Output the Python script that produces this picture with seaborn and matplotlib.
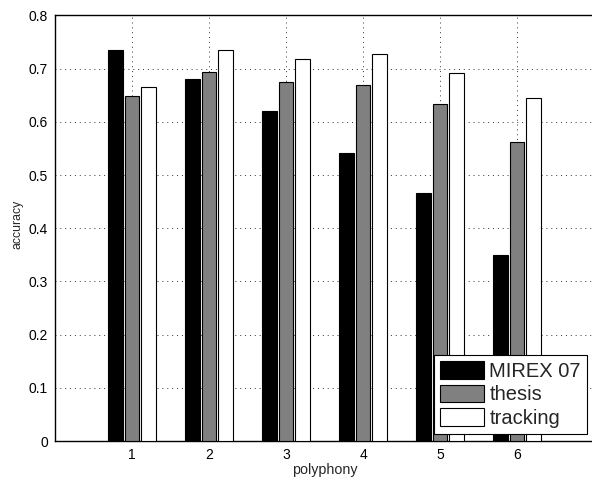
import numpy as np
import pandas as pd
import matplotlib
matplotlib.use("Agg")
import matplotlib.pyplot as plt
import seaborn as sns

# values
polyphony = ["1", "2", "3", "4", "5", "6"]
mirex07 = [0.736, 0.680, 0.620, 0.541, 0.467, 0.350]
thesis = [0.648, 0.693, 0.675, 0.670, 0.633, 0.563]
tracking = [0.665, 0.736, 0.718, 0.727, 0.692, 0.644]
methods = ["MIREX 07", "thesis", "tracking"]
colors = ["#000000", "#808080", "#ffffff"]

df = pd.DataFrame({
    "polyphony": polyphony * 3,
    "accuracy": mirex07 + thesis + tracking,
    "method": [m for m in methods for _ in polyphony],
})

sns.set_style("white")
plt.rcParams["font.family"] = ["Liberation Sans", "DejaVu Sans"]

fig = plt.figure(figsize=(5.92, 4.78), dpi=100)
ax = fig.add_axes([0.0929, 0.0774, 0.9105, 0.8902])

sns.barplot(data=df, x="polyphony", y="accuracy", hue="method",
            order=polyphony, hue_order=methods, palette=colors,
            width=0.65, gap=0.12, edgecolor="black", linewidth=0.8,
            errorbar=None, ax=ax, zorder=3)

ax.set_xlim(-1, 6)
ax.set_ylim(0, 0.8)
ax.set_yticks(np.arange(0, 0.81, 0.1))
ax.set_yticklabels(["0", "0.1", "0.2", "0.3", "0.4", "0.5", "0.6", "0.7", "0.8"])
ax.grid(True, linestyle=(0, (1, 4)), color="#333333", linewidth=0.7, zorder=0)
ax.set_axisbelow(True)
ax.tick_params(direction="in", length=3, labelsize=10, colors="black", pad=5)
for s in ax.spines.values():
    s.set_color("black")
    s.set_linewidth(1.0)

ax.set_xlabel("polyphony", fontsize=10.3, labelpad=1)
ax.set_ylabel("accuracy", fontsize=8.8, labelpad=3)
ax.yaxis.set_label_coords(-0.058, 0.51)

leg = ax.legend(loc="lower right", bbox_to_anchor=(0.987, 0.0164),
                fontsize=14.5, frameon=True, fancybox=False, edgecolor="black",
                handlelength=2.2, handleheight=0.94, handletextpad=0.25,
                labelspacing=0.2, borderpad=0.3, borderaxespad=0.0)
leg.get_frame().set_linewidth(0.8)
leg.get_frame().set_alpha(1)

fig.savefig("out.png", dpi=100)
